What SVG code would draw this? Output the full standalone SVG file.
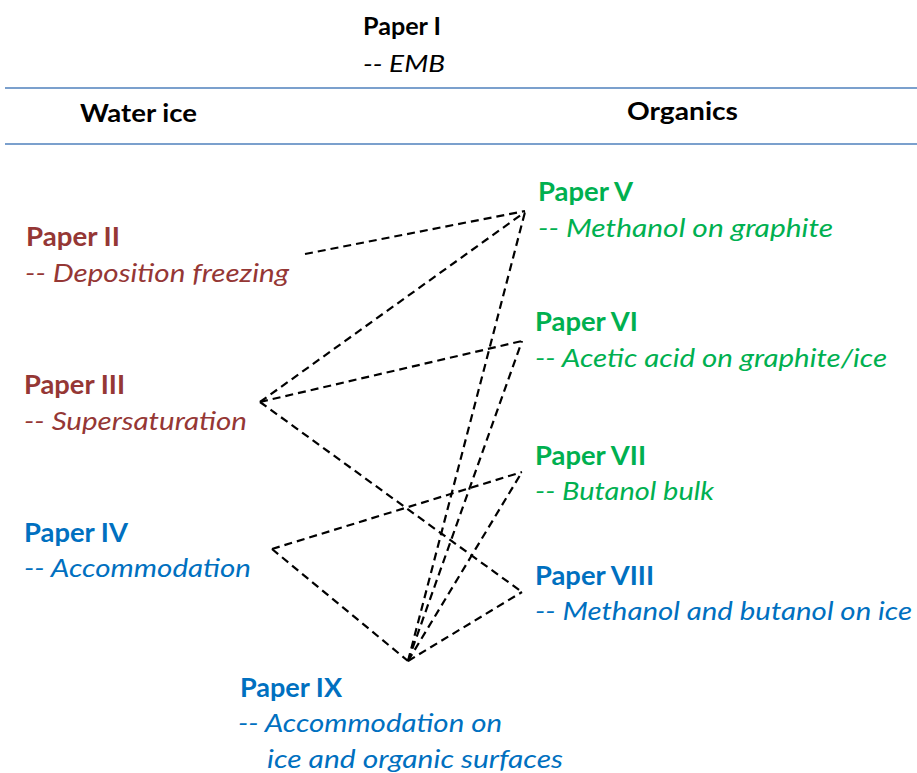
<svg xmlns="http://www.w3.org/2000/svg" width="917" height="773" viewBox="0 0 917 773">
<style>
text{font-family:Lato,"Open Sans","Liberation Sans",sans-serif;font-size:26px}
.b{font-weight:bold}
.i{font-style:italic}
.hd{font-size:24px}
.br{fill:#953735}
.gr{fill:#00B050}
.bl{fill:#0070C0}
.k{fill:#000}
.rule{stroke:#4F81BD;stroke-width:1.5}
.c{stroke:#000;stroke-width:2.2;stroke-dasharray:8 5;fill:none}
</style>
<rect width="917" height="773" fill="#fff"/>
<g id="header">
<text class="b hd k" x="363" y="35" textLength="78" lengthAdjust="spacingAndGlyphs">Paper I</text>
<text class="i hd k" x="363" y="72" textLength="82" lengthAdjust="spacingAndGlyphs">-- EMB</text>
<line class="rule" x1="5" y1="88" x2="917" y2="88"/>
<text class="b hd k" x="80" y="122" textLength="117" lengthAdjust="spacingAndGlyphs">Water ice</text>
<text class="b hd k" x="627" y="120" textLength="111" lengthAdjust="spacingAndGlyphs">Organics</text>
<line class="rule" x1="5" y1="144" x2="917" y2="144"/>
</g>
<g id="connectors">
<line class="c" x1="305" y1="254" x2="525" y2="211"/>
<line class="c" x1="260" y1="402" x2="525" y2="212"/>
<line class="c" x1="260" y1="402" x2="522" y2="341"/>
<line class="c" x1="260" y1="402" x2="522" y2="592"/>
<line class="c" x1="272" y1="549" x2="522" y2="472"/>
<line class="c" x1="272" y1="549" x2="408" y2="661"/>
<line class="c" x1="408" y1="661" x2="525" y2="212"/>
<line class="c" x1="408" y1="661" x2="522" y2="341"/>
<line class="c" x1="408" y1="661" x2="522" y2="472"/>
<line class="c" x1="408" y1="661" x2="522" y2="592"/>
</g>
<g id="paper2">
<text class="b br" x="26" y="246" textLength="94" lengthAdjust="spacingAndGlyphs">Paper II</text>
<text class="i br" x="25" y="282" textLength="264" lengthAdjust="spacingAndGlyphs">-- Deposition freezing</text>
</g>
<g id="paper3">
<text class="b br" x="24" y="394" textLength="101" lengthAdjust="spacingAndGlyphs">Paper III</text>
<text class="i br" x="24" y="430" textLength="223" lengthAdjust="spacingAndGlyphs">-- Supersaturation</text>
</g>
<g id="paper4">
<text class="b bl" x="24" y="542" textLength="104" lengthAdjust="spacingAndGlyphs">Paper IV</text>
<text class="i bl" x="24" y="577" textLength="227" lengthAdjust="spacingAndGlyphs">-- Accommodation</text>
</g>
<g id="paper5">
<text class="b gr" x="538" y="201" textLength="95" lengthAdjust="spacingAndGlyphs">Paper V</text>
<text class="i gr" x="538" y="237" textLength="295" lengthAdjust="spacingAndGlyphs">-- Methanol on graphite</text>
</g>
<g id="paper6">
<text class="b gr" x="535" y="331" textLength="103" lengthAdjust="spacingAndGlyphs">Paper VI</text>
<text class="i gr" x="535" y="367" textLength="352" lengthAdjust="spacingAndGlyphs">-- Acetic acid on graphite/ice</text>
</g>
<g id="paper7">
<text class="b gr" x="535" y="465" textLength="111" lengthAdjust="spacingAndGlyphs">Paper VII</text>
<text class="i gr" x="535" y="500" textLength="179" lengthAdjust="spacingAndGlyphs">-- Butanol bulk</text>
</g>
<g id="paper8">
<text class="b bl" x="535" y="585" textLength="119" lengthAdjust="spacingAndGlyphs">Paper VIII</text>
<text class="i bl" x="535" y="620" textLength="377" lengthAdjust="spacingAndGlyphs">-- Methanol and butanol on ice</text>
</g>
<g id="paper9">
<text class="b bl" x="240" y="697" textLength="102" lengthAdjust="spacingAndGlyphs">Paper IX</text>
<text class="i bl" x="238" y="732" textLength="264" lengthAdjust="spacingAndGlyphs">-- Accommodation on</text>
<text class="i bl" x="267" y="768" textLength="296" lengthAdjust="spacingAndGlyphs">ice and organic surfaces</text>
</g>
</svg>
